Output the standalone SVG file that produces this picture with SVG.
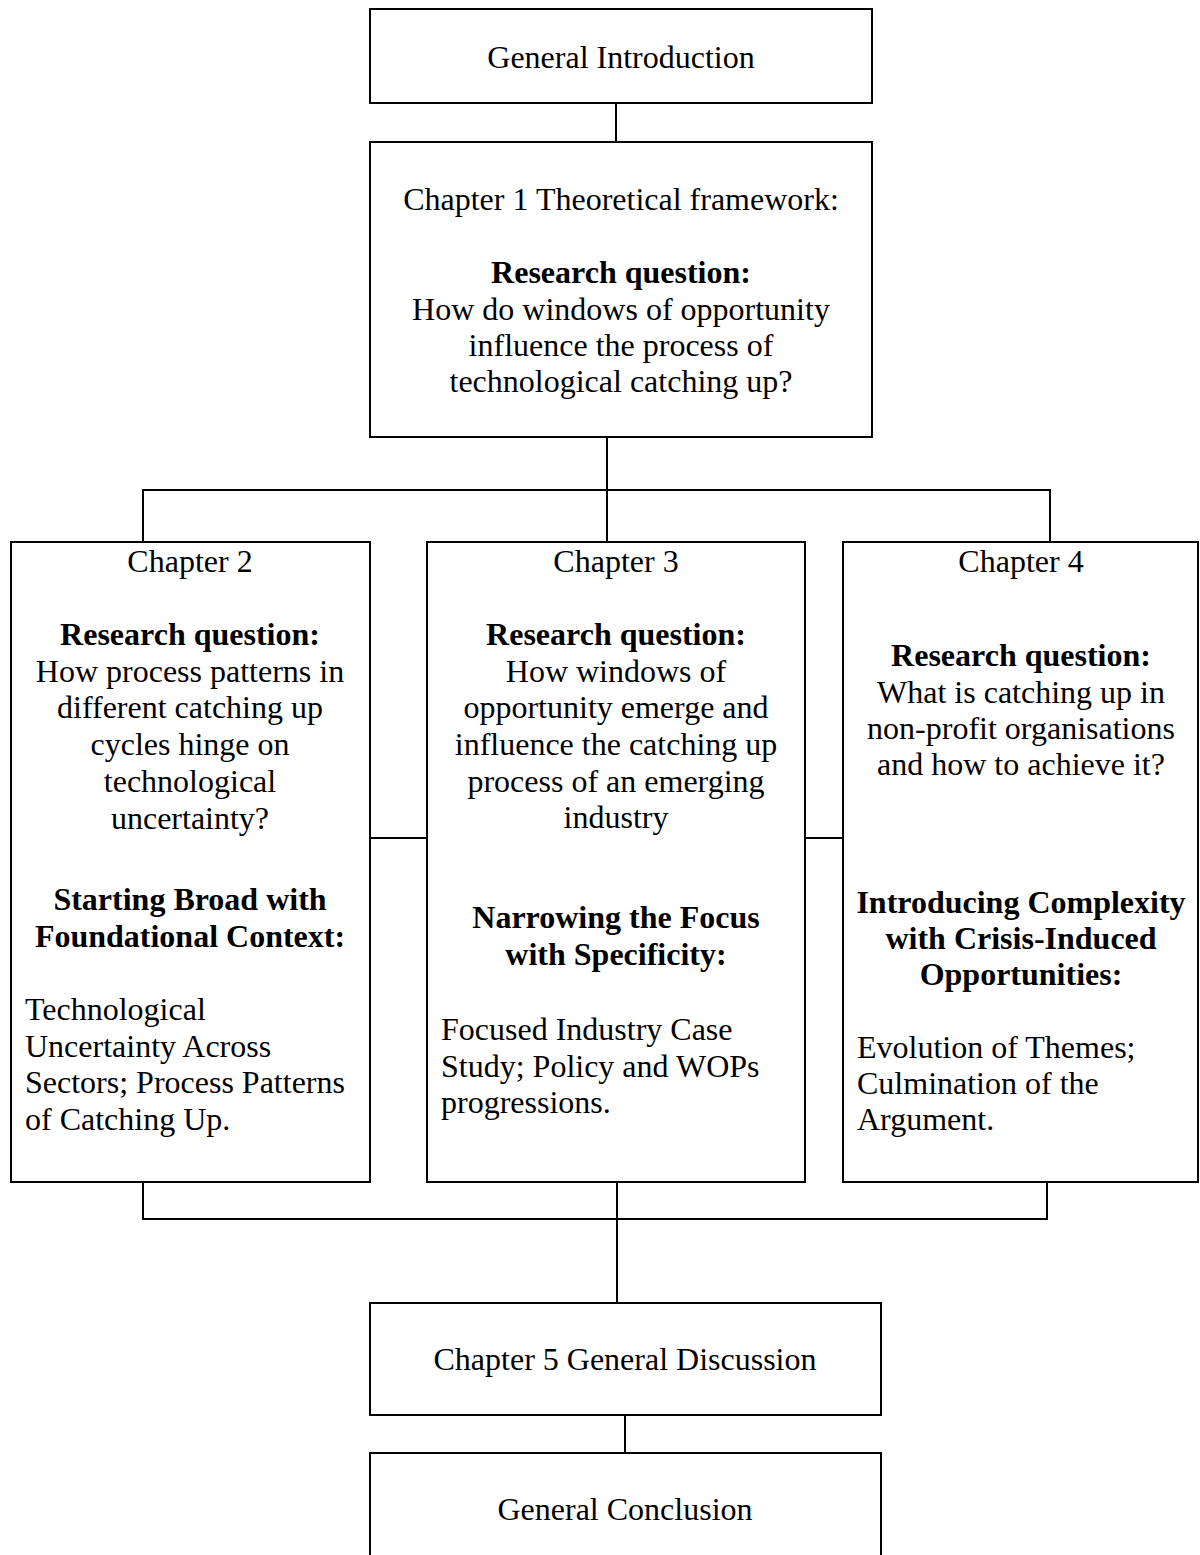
<svg xmlns="http://www.w3.org/2000/svg" width="1200" height="1555" viewBox="0 0 1200 1555">
<style>
.box{fill:#fff;stroke:#000;stroke-width:2}
.conn line,.conn polyline{stroke:#000;stroke-width:2;fill:none}
text{font-family:"Liberation Serif","Times New Roman",serif;font-size:32px;fill:#000}
.c{text-anchor:middle}
.b{font-weight:bold}
</style>
<rect width="1200" height="1555" fill="#fff"/>
<g class="conn" id="connectors">
<line x1="616" y1="103" x2="616" y2="142"/>
<line x1="607" y1="437" x2="607" y2="490"/>
<polyline points="143,542 143,490 1050,490 1050,542"/>
<line x1="607" y1="490" x2="607" y2="542"/>
<line x1="370" y1="838" x2="427" y2="838"/>
<line x1="805" y1="838" x2="843" y2="838"/>
<polyline points="143,1182 143,1219 1047,1219 1047,1182"/>
<line x1="617" y1="1182" x2="617" y2="1303"/>
<line x1="625" y1="1415" x2="625" y2="1453"/>
</g>
<g id="intro">
<rect class="box" x="370" y="9" width="502" height="94"/>
<text class="c" x="621" y="68">General Introduction</text>
</g>
<g id="ch1">
<rect class="box" x="370" y="142" width="502" height="295"/>
<text class="c" x="621" y="210">Chapter 1 Theoretical framework:</text>
<text class="c b" x="621" y="283">Research question:</text>
<text class="c" x="621" y="320">How do windows of opportunity</text>
<text class="c" x="621" y="356">influence the process of</text>
<text class="c" x="621" y="392">technological catching up?</text>
</g>
<g id="ch2">
<rect class="box" x="11" y="542" width="359" height="640"/>
<text class="c" x="190" y="572">Chapter 2</text>
<text class="c b" x="190" y="645">Research question:</text>
<text class="c" x="190" y="682">How process patterns in</text>
<text class="c" x="190" y="718">different catching up</text>
<text class="c" x="190" y="755">cycles hinge on</text>
<text class="c" x="190" y="792">technological</text>
<text class="c" x="190" y="829">uncertainty?</text>
<text class="c b" x="190" y="910">Starting Broad with</text>
<text class="c b" x="190" y="947">Foundational Context:</text>
<text x="25" y="1020">Technological</text>
<text x="25" y="1057">Uncertainty Across</text>
<text x="25" y="1093">Sectors; Process Patterns</text>
<text x="25" y="1130">of Catching Up.</text>
</g>
<g id="ch3">
<rect class="box" x="427" y="542" width="378" height="640"/>
<text class="c" x="616" y="572">Chapter 3</text>
<text class="c b" x="616" y="645">Research question:</text>
<text class="c" x="616" y="682">How windows of</text>
<text class="c" x="616" y="718">opportunity emerge and</text>
<text class="c" x="616" y="755">influence the catching up</text>
<text class="c" x="616" y="792">process of an emerging</text>
<text class="c" x="616" y="828">industry</text>
<text class="c b" x="616" y="928">Narrowing the Focus</text>
<text class="c b" x="616" y="965">with Specificity:</text>
<text x="441" y="1040">Focused Industry Case</text>
<text x="441" y="1077">Study; Policy and WOPs</text>
<text x="441" y="1113">progressions.</text>
</g>
<g id="ch4">
<rect class="box" x="843" y="542" width="355" height="640"/>
<text class="c" x="1021" y="572">Chapter 4</text>
<text class="c b" x="1021" y="666">Research question:</text>
<text class="c" x="1021" y="703">What is catching up in</text>
<text class="c" x="1021" y="739">non-profit organisations</text>
<text class="c" x="1021" y="775">and how to achieve it?</text>
<text class="c b" x="1021" y="913">Introducing Complexity</text>
<text class="c b" x="1021" y="949">with Crisis-Induced</text>
<text class="c b" x="1021" y="985">Opportunities:</text>
<text x="857" y="1058">Evolution of Themes;</text>
<text x="857" y="1094">Culmination of the</text>
<text x="857" y="1130">Argument.</text>
</g>
<g id="ch5">
<rect class="box" x="370" y="1303" width="511" height="112"/>
<text class="c" x="625" y="1370">Chapter 5 General Discussion</text>
</g>
<g id="conclusion">
<rect class="box" x="370" y="1453" width="511" height="112"/>
<text class="c" x="625" y="1520">General Conclusion</text>
</g>
</svg>
